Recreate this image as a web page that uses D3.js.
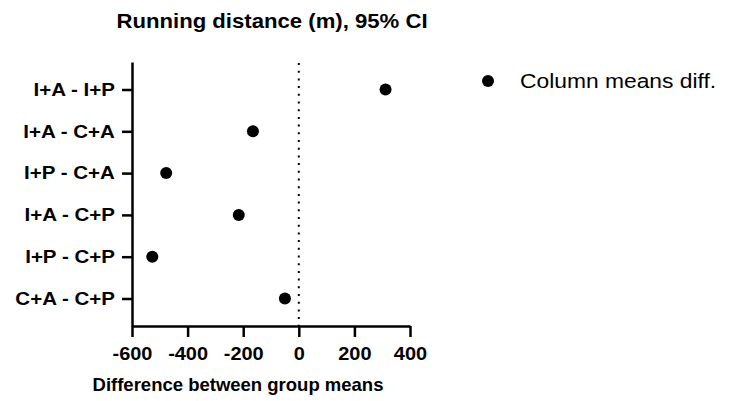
<!DOCTYPE html>
<html>
<head>
<meta charset="utf-8">
<script src="https://cdn.jsdelivr.net/npm/d3@7"></script>
<style>
  html, body { margin: 0; padding: 0; background: #fff; }
  svg { display: block; }
  text { font-family: "Liberation Sans", Arial, sans-serif; fill: #000; }
</style>
</head>
<body>
<svg id="chart" width="740" height="401"></svg>
<script>
// Pairwise comparisons and their differences in column means
const comparisons = ["I+A - I+P", "I+A - C+A", "I+P - C+A", "I+A - C+P", "I+P - C+P", "C+A - C+P"];
const meanDiffs = [312, -165, -477, -216, -527, -50];
const xTickValues = [-600, -400, -200, 0, 200, 400];
const xDomain = [-600, 400];
const chartTitle = "Running distance (m), 95% CI";
const xTitle = "Difference between group means";
const legendLabel = "Column means diff.";

const svg = d3.select("#chart");

const x = d3.scaleLinear().domain(xDomain).range([132, 410]);
const y = d3.scalePoint().domain(comparisons).range([62, 326]).padding(0.658);

// zero reference line
svg.append("line")
  .attr("x1", x(0)).attr("x2", x(0))
  .attr("y1", 63).attr("y2", 326)
  .attr("stroke", "#000")
  .attr("stroke-width", 2)
  .attr("stroke-dasharray", "2 5.7");

// axes
const yAxis = svg.append("g")
  .attr("transform", `translate(${x(xDomain[0])},0)`)
  .call(d3.axisLeft(y).tickSize(10).tickSizeOuter(0).tickPadding(5));
const xAxis = svg.append("g")
  .attr("transform", "translate(0,326)")
  .call(d3.axisBottom(x).tickValues(xTickValues).tickSize(11).tickSizeOuter(0).tickPadding(10)
    .tickFormat(d => String(d)));

[yAxis, xAxis].forEach(a => {
  a.select(".domain").attr("stroke", "#000").attr("stroke-width", 2.5);
  a.selectAll(".tick line").attr("stroke", "#000").attr("stroke-width", 2.5);
  a.selectAll(".tick text")
    .attr("fill", "#000")
    .style("font-weight", "bold")
    .style("font-family", "'Liberation Sans', Arial, sans-serif");
});
yAxis.selectAll(".tick text").style("font-size", "18px")
  .attr("transform", "scale(1.14,1)");
xAxis.selectAll(".tick text").style("font-size", "19px")
  .attr("transform", "scale(1.05,1)");

// mean difference points
svg.append("g").selectAll("circle")
  .data(comparisons.map((c, i) => ({ c, v: meanDiffs[i] })))
  .join("circle")
  .attr("cx", d => x(d.v))
  .attr("cy", d => y(d.c))
  .attr("r", 6)
  .attr("fill", "#000");

// titles
svg.append("text")
  .attr("transform", "translate(272,27.5) scale(1.08,1)")
  .attr("text-anchor", "middle")
  .style("font-size", "20.5px").style("font-weight", "bold")
  .text(chartTitle);

svg.append("text")
  .attr("transform", "translate(238,391)")
  .attr("text-anchor", "middle")
  .style("font-size", "18.5px").style("font-weight", "bold")
  .text(xTitle);

// legend
const legend = svg.append("g").attr("transform", "translate(488,81)");
legend.append("circle").attr("r", 6).attr("fill", "#000");
legend.append("text")
  .attr("transform", "translate(32,6.8) scale(1.17,1)")
  .style("font-size", "19.5px")
  .text(legendLabel);
</script>
</body>
</html>
